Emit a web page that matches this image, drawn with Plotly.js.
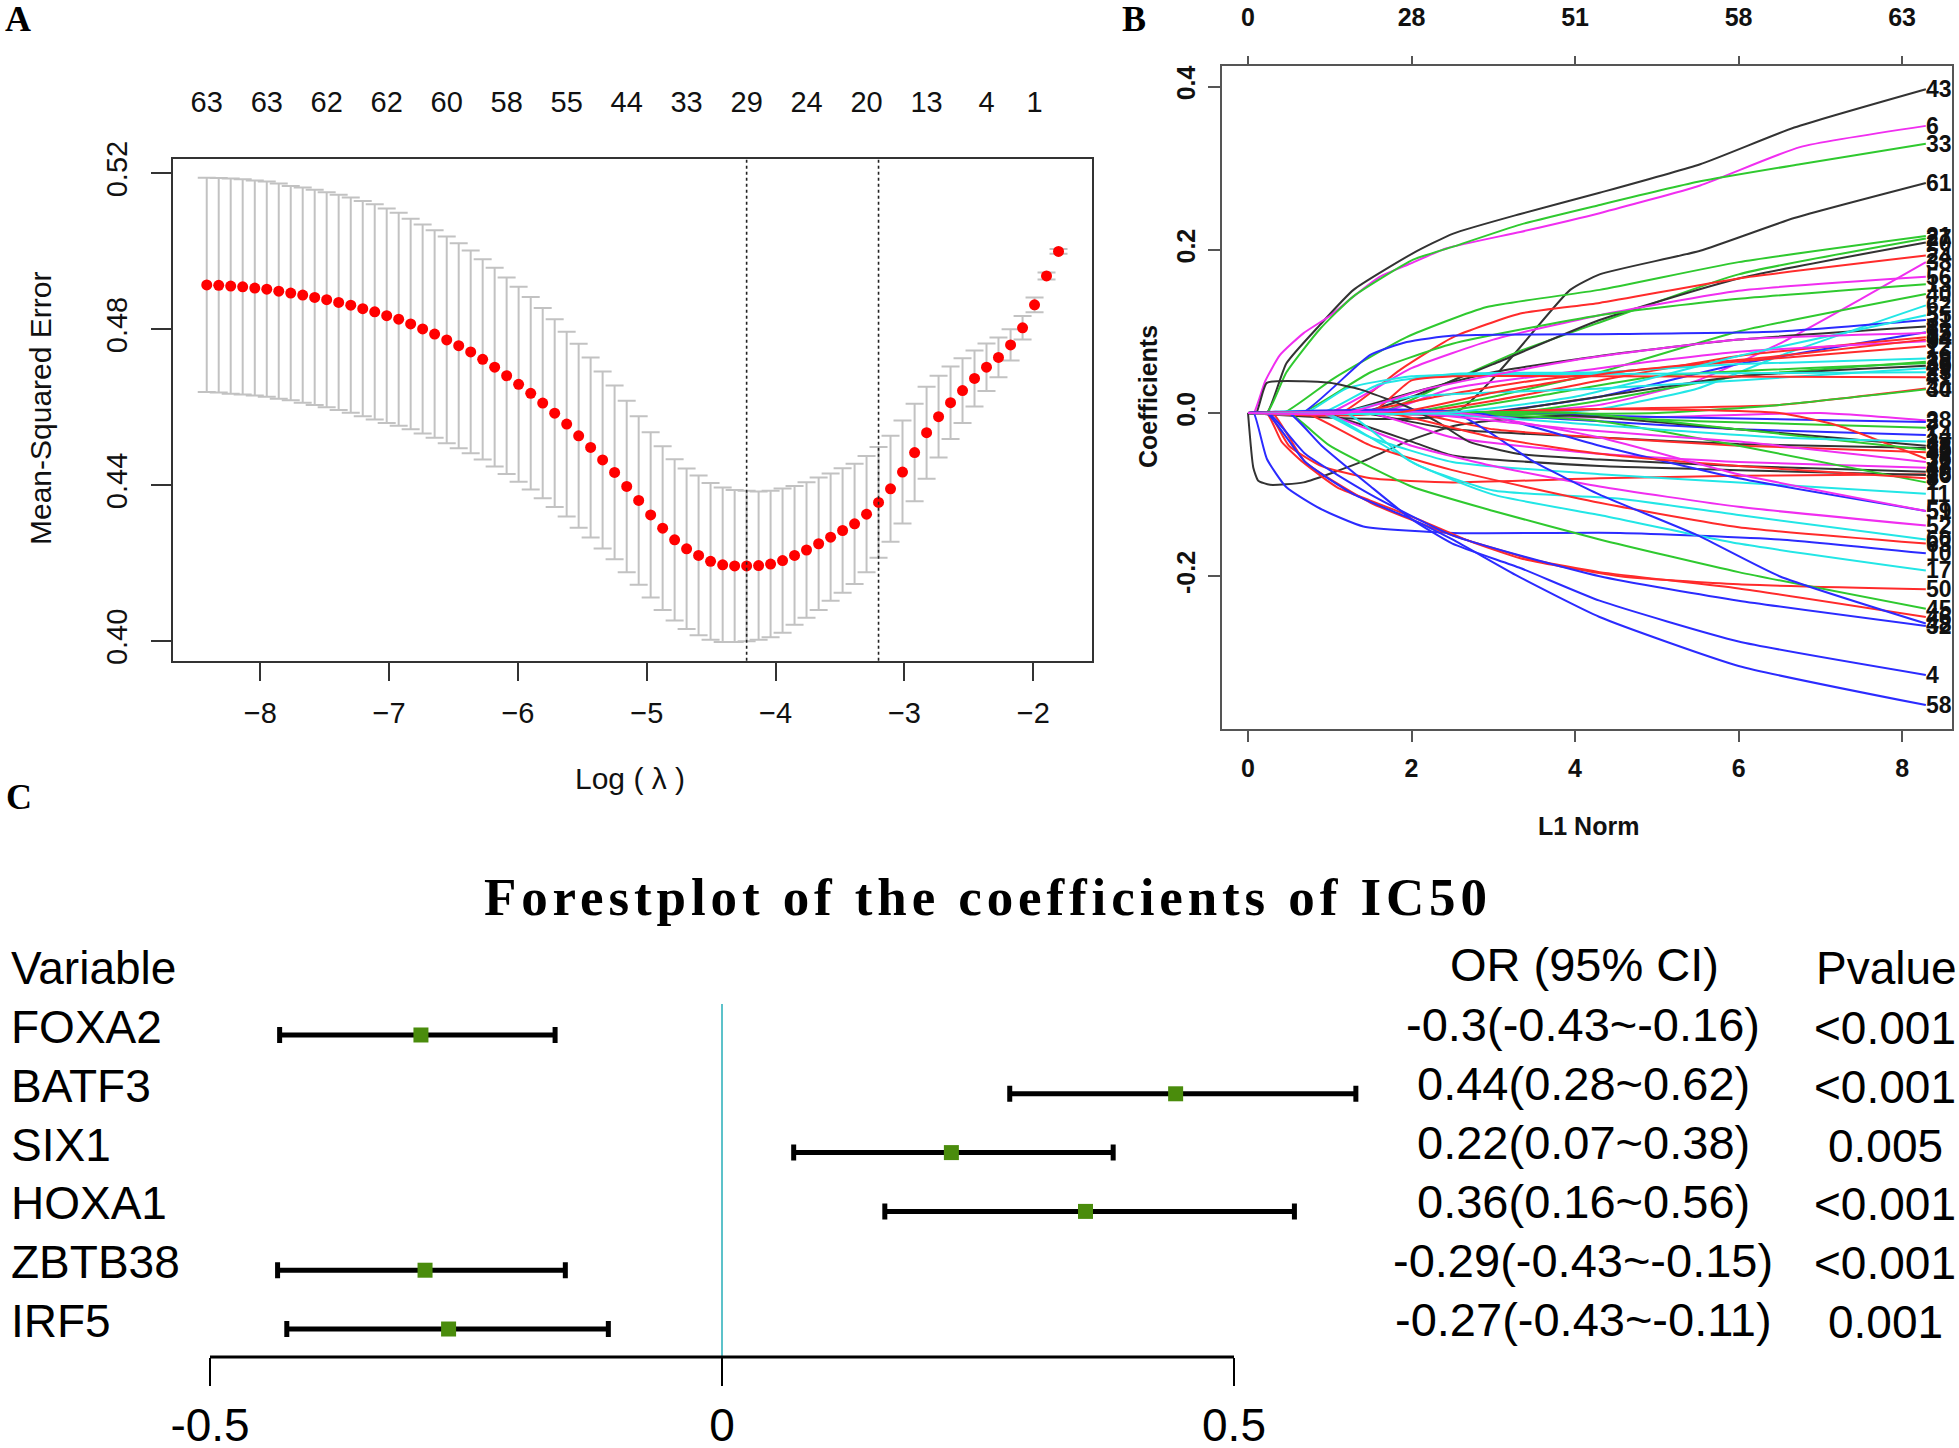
<!DOCTYPE html>
<html>
<head>
<meta charset="utf-8">
<script src="https://cdn.plot.ly/plotly-3.0.1.min.js"></script>
<style>
  html, body { margin: 0; padding: 0; background: #fff; }
  #chart { width: 1959px; height: 1448px; }
  .annotation[data-index="0"] .annotation-text { letter-spacing: 4.9px; }
</style>
</head>
<body>
<div id="chart"></div>
<script>
// ---------------- Panel A: cross-validation curve ----------------
const logLambda = [-8.416,-8.323,-8.230,-8.137,-8.043,-7.950,-7.857,-7.764,-7.671,-7.578,
  -7.485,-7.392,-7.298,-7.205,-7.112,-7.019,-6.926,-6.833,-6.740,-6.647,
  -6.553,-6.460,-6.367,-6.274,-6.181,-6.088,-5.995,-5.901,-5.808,-5.715,
  -5.622,-5.529,-5.436,-5.343,-5.250,-5.156,-5.063,-4.970,-4.877,-4.784,
  -4.691,-4.598,-4.505,-4.411,-4.318,-4.225,-4.132,-4.039,-3.946,-3.853,
  -3.760,-3.666,-3.573,-3.480,-3.387,-3.294,-3.201,-3.108,-3.015,-2.921,
  -2.828,-2.735,-2.642,-2.549,-2.456,-2.363,-2.270,-2.176,-2.083,-1.990,
  -1.897,-1.804];
const cvMean = [0.4914,0.4913,0.4911,0.4909,0.4906,0.4903,0.4898,0.4893,0.4888,0.4882,
  0.4876,0.4869,0.4862,0.4853,0.4845,0.4835,0.4826,0.4814,0.4801,0.4788,
  0.4773,0.4758,0.4742,0.4723,0.4703,0.4681,0.4659,0.4636,0.4611,0.4585,
  0.4557,0.4527,0.4497,0.4465,0.4433,0.4397,0.4361,0.4324,0.4290,0.4260,
  0.4237,0.4220,0.4205,0.4196,0.4193,0.4193,0.4194,0.4198,0.4207,0.4220,
  0.4234,0.4250,0.4267,0.4284,0.4301,0.4326,0.4356,0.4391,0.4434,0.4484,
  0.4535,0.4576,0.4612,0.4643,0.4674,0.4703,0.4728,0.4760,0.4804,0.4863,
  0.4937,0.5000];
const cvSE = [0.0275,0.0275,0.0276,0.0276,0.0276,0.0276,0.0276,0.0275,0.0276,0.0276,
  0.0276,0.0276,0.0276,0.0276,0.0276,0.0275,0.0273,0.0270,0.0268,0.0266,
  0.0265,0.0263,0.0260,0.0257,0.0255,0.0252,0.0250,0.0247,0.0244,0.0241,
  0.0237,0.0236,0.0231,0.0227,0.0223,0.0220,0.0216,0.0212,0.0210,0.0207,
  0.0206,0.0205,0.0201,0.0198,0.0195,0.0193,0.0190,0.0188,0.0185,0.0178,
  0.0174,0.0170,0.0163,0.0160,0.0154,0.0149,0.0142,0.0136,0.0132,0.0125,
  0.0118,0.0105,0.0093,0.0083,0.0072,0.0061,0.0051,0.0040,0.0030,0.0019,
  0.0009,0.0006];
const lambdaMin = -4.225;
const lambda1se = -3.201;
const nzAt = [-8.416,-7.950,-7.485,-7.019,-6.553,-6.088,-5.622,-5.156,-4.691,-4.225,-3.760,-3.294,-2.828,-2.363,-1.990];
const nzLabels = ['63','63','62','62','60','58','55','44','33','29','24','20','13','4','1'];
const aTicksX = [-8,-7,-6,-5,-4,-3,-2];
const aTicksY = [0.40,0.44,0.48,0.52];
const aTickTextY = ['0.40','0.44','0.48','0.52'];

// ---------------- Panel B: coefficient paths ----------------
const bTicksX = [0,2,4,6,8];
const bTopLabels = ['0','28','51','58','63'];
const bTicksY = [-0.2,0,0.2,0.4];
const bTickTextY = ['-0.2','0.0','0.2','0.4'];
const bPalette = ['#333333','#ff2b2b','#2fc92f','#2b2bff','#22e6e6','#f02ef0'];
const bLabels = ['43','6','33','61','21','27','20','24','38','56','13','40','62','31','8','15','34','9','12','19','2','35','49','29','23','41','30','44',
  '28','3','7','14','18','53','42','36','47','39','16','26','1','11','59','52','60','63','10','17','50','45','46','48','32','4','58',
  '5','22','25','37','51','54','55','57'];
const bColorIdx = [0,5,2,0,2,2,0,1,5,5,2,2,4,3,0,3,1,5,1,4,2,2,0,4,4,1,1,2,
  5,3,2,3,0,0,1,1,5,0,1,0,2,4,3,5,4,1,3,4,1,2,1,3,3,3,3,
  1,5,2,4,5,1,4,5];
const bPaths = [
  [[0,0],[0.23,0],[0.47,0.061],[0.88,0.108],[1.29,0.151],[2.02,0.196],[2.51,0.22],[3.33,0.244],[4.3,0.27],[5.53,0.305],[6.68,0.35],[8.29,0.397]],
  [[0,0],[0.07,0],[0.21,0.039],[0.39,0.071],[0.68,0.098],[1.0,0.119],[1.29,0.143],[1.61,0.167],[1.98,0.183],[2.43,0.202],[3.33,0.222],[4.3,0.245],[5.53,0.279],[6.75,0.326],[8.29,0.352]],
  [[0,0],[0.23,0],[0.47,0.05],[0.88,0.103],[1.29,0.143],[2.02,0.188],[2.51,0.204],[3.33,0.231],[4.3,0.255],[5.53,0.284],[6.75,0.305],[8.29,0.33]],
  [[0,0],[2.53,0],[3.94,0.151],[4.3,0.17],[5.53,0.199],[6.68,0.239],[8.29,0.282]],
  [[0,0],[0.43,0],[1.04,0.042],[1.94,0.093],[2.92,0.13],[4.3,0.151],[6.0,0.185],[8.29,0.217]],
  [[0,0],[1.6,0],[2.5,0.04],[3.3,0.075],[4.3,0.111],[6.0,0.17],[8.29,0.214]],
  [[0,0],[1.35,0],[2.0,0.02],[3.0,0.06],[4.3,0.114],[6.0,0.165],[8.29,0.209]],
  [[0,0],[1.13,0],[1.86,0.053],[2.51,0.093],[3.33,0.122],[4.3,0.135],[6.0,0.165],[8.29,0.193]],
  [[0,0],[3.0,0],[4.3,0.01],[5.5,0.04],[6.5,0.085],[7.5,0.14],[8.29,0.185]],
  [[0,0],[0.98,0],[2.0,0.055],[3.0,0.09],[4.3,0.12],[6.0,0.15],[8.29,0.167]],
  [[0,0],[0.65,0],[1.5,0.05],[2.5,0.085],[4.3,0.12],[6.0,0.14],[8.29,0.158]],
  [[0,0],[1.9,0],[3.0,0.02],[4.3,0.05],[6.0,0.1],[8.29,0.146]],
  [[0,0],[3.5,0],[4.3,0.005],[5.5,0.03],[6.5,0.07],[8.29,0.132]],
  [[0,0],[0.66,0],[1.49,0.071],[1.94,0.087],[2.51,0.095],[4.55,0.097],[6.5,0.1],[8.29,0.114]],
  [[0,0],[1.1,0],[2.0,0.025],[3.0,0.05],[4.3,0.07],[6.0,0.09],[8.29,0.106]],
  [[0,0],[2.8,0],[4.3,0.02],[6.0,0.06],[8.29,0.099]],
  [[0,0],[2.0,0],[3.0,0.015],[4.3,0.04],[6.0,0.07],[8.29,0.093]],
  [[0,0],[1.6,0],[2.5,0.03],[4.3,0.055],[6.0,0.075],[8.29,0.088]],
  [[0,0],[1.3,0],[2.3,0.02],[3.5,0.04],[5.0,0.055],[8.29,0.082]],
  [[0,0],[0.9,0],[1.6,0.035],[2.5,0.048],[4.3,0.05],[6.0,0.06],[8.29,0.067]],
  [[0,0],[3.2,0],[4.3,0.015],[6.0,0.045],[8.29,0.063]],
  [[0,0],[2.2,0],[3.5,0.02],[5.0,0.045],[8.29,0.061]],
  [[0,0],[2.9,0],[4.3,0.02],[6.0,0.045],[8.29,0.058]],
  [[0,0],[1.1,0],[2.0,0.02],[4.3,0.03],[6.0,0.04],[8.29,0.055]],
  [[0,0],[0.7,0],[1.2,0.03],[2.0,0.045],[4.3,0.048],[8.29,0.05]],
  [[0,0],[1.5,0],[2.0,0.04],[2.5,0.045],[4.3,0.045],[8.29,0.044]],
  [[0,0],[3.0,0],[4.3,0.005],[6.5,0.01],[8.29,0.03]],
  [[0,0],[5.0,0],[6.5,0.01],[8.29,0.029]],
  [[0,0],[1.5,0],[3.0,-0.005],[5.0,-0.005],[7.0,0.0],[8.29,-0.009]],
  [[0,0],[3.0,0],[5.0,-0.005],[8.29,-0.011]],
  [[0,0],[3.0,0],[5.5,-0.01],[8.29,-0.018]],
  [[0,0],[2.5,0],[4.3,-0.01],[6.0,-0.02],[8.29,-0.027]],
  [[0,0],[0.065,-0.067],[0.126,-0.083],[0.27,-0.088],[0.68,-0.085],[1.41,-0.059],[1.94,-0.035],[2.51,-0.016],[3.12,-0.008],[3.94,-0.003],[6.0,-0.02],[8.29,-0.04]],
  [[0,0],[1.4,0],[2.5,-0.02],[4.3,-0.03],[6.0,-0.038],[8.29,-0.043]],
  [[0,0],[2.0,0],[3.0,-0.02],[4.3,-0.03],[6.0,-0.04],[8.29,-0.048]],
  [[0,0],[2.2,0],[4.3,0.005],[6.5,0.0],[7.2,-0.015],[8.29,-0.056]],
  [[0,0],[1.5,0],[2.5,-0.03],[4.3,-0.05],[6.0,-0.06],[8.29,-0.067]],
  [[0,0],[0.1,0],[0.23,0.037],[0.68,0.039],[1.0,0.037],[1.37,0.029],[1.94,0.008],[2.3,-0.01],[2.7,-0.035],[3.3,-0.05],[4.3,-0.057],[6.0,-0.065],[8.29,-0.072]],
  [[0,0],[0.25,0],[0.5,-0.04],[0.9,-0.065],[1.5,-0.08],[2.5,-0.085],[4.3,-0.08],[6.0,-0.077],[8.29,-0.075]],
  [[0,0],[0.9,0],[2.0,-0.035],[2.5,-0.052],[4.3,-0.065],[6.0,-0.07],[8.29,-0.076]],
  [[0,0],[2.5,0],[4.3,-0.01],[6.0,-0.04],[8.29,-0.085]],
  [[0,0],[0.9,0],[1.5,-0.03],[2.5,-0.06],[4.3,-0.075],[6.0,-0.085],[8.29,-0.099]],
  [[0,0],[2.8,0],[4.3,-0.04],[6.0,-0.08],[8.29,-0.12]],
  [[0,0],[0.9,0],[2.0,-0.04],[3.0,-0.065],[4.3,-0.09],[6.0,-0.115],[8.29,-0.138]],
  [[0,0],[0.95,0],[1.5,-0.03],[2.1,-0.065],[3.0,-0.095],[4.55,-0.105],[6.0,-0.125],[8.29,-0.155]],
  [[0,0],[0.7,0],[1.5,-0.04],[2.5,-0.07],[4.3,-0.11],[6.0,-0.14],[8.29,-0.16]],
  [[0,0],[0.07,0],[0.23,-0.056],[0.47,-0.091],[0.88,-0.117],[1.41,-0.139],[2.51,-0.147],[4.55,-0.147],[6.5,-0.155],[8.29,-0.172]],
  [[0,0],[1.2,0],[2.0,-0.06],[3.0,-0.1],[4.3,-0.125],[6.0,-0.16],[8.29,-0.193]],
  [[0,0],[0.23,0],[0.41,-0.035],[0.68,-0.061],[1.09,-0.091],[1.49,-0.107],[2.1,-0.131],[2.71,-0.157],[3.33,-0.178],[4.55,-0.2],[6.0,-0.21],[8.29,-0.216]],
  [[0,0],[0.5,0],[1.0,-0.04],[2.0,-0.09],[3.0,-0.12],[4.3,-0.155],[6.0,-0.195],[8.29,-0.24]],
  [[0,0],[0.3,0],[0.7,-0.06],[1.5,-0.11],[2.5,-0.15],[3.5,-0.18],[4.3,-0.195],[6.0,-0.215],[8.29,-0.25]],
  [[0,0],[2.53,0],[3.5,-0.06],[4.3,-0.1],[5.5,-0.15],[6.5,-0.2],[8.29,-0.258]],
  [[0,0],[0.25,0],[0.7,-0.05],[1.5,-0.1],[2.5,-0.15],[4.3,-0.2],[6.0,-0.23],[8.29,-0.261]],
  [[0,0],[0.5,0],[0.9,-0.04],[1.5,-0.09],[2.0,-0.13],[2.5,-0.16],[3.33,-0.19],[4.3,-0.23],[6.0,-0.28],[8.29,-0.321]],
  [[0,0],[0.23,0],[0.7,-0.06],[1.3,-0.1],[2.0,-0.13],[2.5,-0.155],[3.3,-0.2],[4.3,-0.25],[6.0,-0.31],[8.29,-0.358]],
  [[0,0],[1.7,0],[3.0,-0.03],[4.3,-0.05],[6.0,-0.065],[8.29,-0.08]],
  [[0,0],[2.0,0],[4.0,-0.02],[6.0,-0.035],[8.29,-0.06]],
  [[0,0],[4.0,0],[6.0,-0.02],[8.29,-0.045]],
  [[0,0],[2.2,0],[4.3,-0.015],[6.5,-0.03],[8.29,-0.035]],
  [[0,0],[2.6,0],[4.3,-0.03],[6.0,-0.075],[8.29,-0.12]],
  [[0,0],[1.8,0],[3.0,0.025],[4.5,0.05],[6.5,0.07],[8.29,0.09]],
  [[0,0],[2.4,0],[4.0,0.02],[6.0,0.07],[8.29,0.12]],
  [[0,0],[1.2,0],[2.2,0.03],[4.0,0.065],[6.0,0.09],[8.29,0.098]]
];

// ---------------- Panel C: forest plot ----------------
const fVariables = ['FOXA2','BATF3','SIX1','HOXA1','ZBTB38','IRF5'];
const fRows = [6,5,4,3,2,1];
const fCoef  = [-0.294, 0.443, 0.224, 0.355, -0.290, -0.267];
const fLower = [-0.432, 0.281, 0.070, 0.159, -0.434, -0.425];
const fUpper = [-0.163, 0.619, 0.382, 0.559, -0.153, -0.111];
const fORText = ['-0.3(-0.43~-0.16)','0.44(0.28~0.62)','0.22(0.07~0.38)','0.36(0.16~0.56)','-0.29(-0.43~-0.15)','-0.27(-0.43~-0.11)'];
const fPText = ['<0.001','<0.001','0.005','<0.001','<0.001','0.001'];
const fHeaders = ['Variable','OR (95% CI)','Pvalue'];
const fTicks = [-0.5, 0, 0.5];
const fTickText = ['-0.5','0','0.5'];

// ---------------- build ----------------
const W = 1959, H = 1448;
const px = v => v / W;
const py = v => 1 - v / H;
const SANS = 'Liberation Sans, Arial, sans-serif';
const SERIF = 'Liberation Serif, Times New Roman, serif';

const data = [];

// Panel A
data.push({
  type: 'scatter', mode: 'markers', x: logLambda, y: cvMean, xaxis: 'x', yaxis: 'y',
  marker: { color: '#ff0000', size: 11, line: { width: 0 } },
  error_y: { type: 'data', array: cvSE, visible: true, color: '#c2c2c2', thickness: 2, width: 9 },
  hoverinfo: 'skip'
});
data.push({ type: 'scatter', mode: 'markers', x: [nzAt[0]], y: [cvMean[0]], xaxis: 'x5', yaxis: 'y',
  marker: { opacity: 0 }, hoverinfo: 'skip' });

// Panel B
for (let i = 0; i < bPaths.length; i++) {
  data.push({
    type: 'scatter', mode: 'lines', xaxis: 'x2', yaxis: 'y2',
    x: bPaths[i].map(p => p[0]), y: bPaths[i].map(p => p[1]),
    line: { color: bPalette[bColorIdx[i]], width: 2, shape: 'spline', smoothing: 0.5 },
    hoverinfo: 'skip'
  });
}
data.push({ type: 'scatter', mode: 'markers', x: [0], y: [0], xaxis: 'x4', yaxis: 'y2',
  marker: { opacity: 0 }, hoverinfo: 'skip' });

// Panel C
data.push({
  type: 'scatter', mode: 'markers', x: fCoef, y: fRows, xaxis: 'x3', yaxis: 'y3',
  marker: { symbol: 'square', size: 15, color: '#4a8c0c', line: { width: 0 } },
  error_x: { type: 'data', symmetric: false,
    array: fUpper.map((u, i) => u - fCoef[i]),
    arrayminus: fLower.map((l, i) => fCoef[i] - l),
    color: '#000000', thickness: 5, width: 8 },
  hoverinfo: 'skip'
});

const annotations = [];
// title of C first (index 0, letter-spaced via CSS)
annotations.push({ text: 'Forestplot of the coefficients of IC50', xref: 'paper', yref: 'paper',
  x: px(988), y: py(897), xanchor: 'center', yanchor: 'middle', showarrow: false,
  font: { family: SERIF, size: 53, color: '#000', weight: 'bold' } });

// panel letters
annotations.push({ text: 'A', xref: 'paper', yref: 'paper', x: px(18), y: py(19), xanchor: 'center', yanchor: 'middle',
  showarrow: false, font: { family: SERIF, size: 36, color: '#000', weight: 'bold' } });
annotations.push({ text: 'B', xref: 'paper', yref: 'paper', x: px(1134), y: py(19), xanchor: 'center', yanchor: 'middle',
  showarrow: false, font: { family: SERIF, size: 36, color: '#000', weight: 'bold' } });
annotations.push({ text: 'C', xref: 'paper', yref: 'paper', x: px(19), y: py(797), xanchor: 'center', yanchor: 'middle',
  showarrow: false, font: { family: SERIF, size: 36, color: '#000', weight: 'bold' } });

// Panel A axis titles
annotations.push({ text: 'Mean-Squared Error', xref: 'paper', yref: 'paper', x: px(40), y: py(409), textangle: -90,
  xanchor: 'center', yanchor: 'middle', showarrow: false, font: { family: SANS, size: 30, color: '#111' } });
annotations.push({ text: 'Log ( λ )', xref: 'paper', yref: 'paper', x: px(630), y: py(778),
  xanchor: 'center', yanchor: 'middle', showarrow: false, font: { family: SANS, size: 30, color: '#111' } });

// Panel B axis titles
annotations.push({ text: 'Coefficients', xref: 'paper', yref: 'paper', x: px(1148), y: py(397), textangle: -90,
  xanchor: 'center', yanchor: 'middle', showarrow: false, font: { family: SANS, size: 25, color: '#111', weight: 'bold' } });
annotations.push({ text: 'L1 Norm', xref: 'paper', yref: 'paper', x: px(1588), y: py(826),
  xanchor: 'center', yanchor: 'middle', showarrow: false, font: { family: SANS, size: 25, color: '#111', weight: 'bold' } });

// Panel B line-end labels
for (let i = 0; i < bPaths.length; i++) {
  const end = bPaths[i][bPaths[i].length - 1];
  annotations.push({ text: bLabels[i], xref: 'x2', yref: 'y2', x: end[0], y: end[1],
    xanchor: 'left', yanchor: 'middle', showarrow: false, xshift: -2,
    font: { family: SANS, size: 23, color: '#111', weight: 'bold' } });
}

// Panel C table
annotations.push({ text: fHeaders[0], xref: 'paper', yref: 'paper', x: px(9), y: py(968),
  xanchor: 'left', yanchor: 'middle', showarrow: false, font: { family: SANS, size: 46, color: '#000' } });
annotations.push({ text: fHeaders[1], xref: 'paper', yref: 'paper', x: px(1584), y: py(965),
  xanchor: 'center', yanchor: 'middle', showarrow: false, font: { family: SANS, size: 47, color: '#000' } });
annotations.push({ text: fHeaders[2], xref: 'paper', yref: 'paper', x: px(1886), y: py(968),
  xanchor: 'center', yanchor: 'middle', showarrow: false, font: { family: SANS, size: 46, color: '#000' } });
for (let i = 0; i < fVariables.length; i++) {
  annotations.push({ text: fVariables[i], xref: 'paper', yref: 'y3', x: px(9), y: fRows[i], yshift: 8,
    xanchor: 'left', yanchor: 'middle', showarrow: false, font: { family: SANS, size: 46, color: '#000' } });
  annotations.push({ text: fORText[i], xref: 'paper', yref: 'y3', x: px(1583), y: fRows[i], yshift: 10,
    xanchor: 'center', yanchor: 'middle', showarrow: false, font: { family: SANS, size: 47, color: '#000' } });
  annotations.push({ text: fPText[i], xref: 'paper', yref: 'y3', x: px(1885), y: fRows[i], yshift: 7,
    xanchor: 'center', yanchor: 'middle', showarrow: false, font: { family: SANS, size: 46, color: '#000' } });
}

const shapes = [
  { type: 'line', xref: 'x', yref: 'y domain', x0: lambdaMin, x1: lambdaMin, y0: 0, y1: 1,
    line: { color: '#222', width: 1.6, dash: 'dot' } },
  { type: 'line', xref: 'x', yref: 'y domain', x0: lambda1se, x1: lambda1se, y0: 0, y1: 1,
    line: { color: '#222', width: 1.6, dash: 'dot' } },
  { type: 'line', xref: 'x3', yref: 'y3 domain', x0: 0, x1: 0, y0: 0, y1: 1,
    line: { color: '#5cc2ca', width: 2 } },
  { type: 'line', xref: 'x3', yref: 'y3 domain', x0: fTicks[0], x1: fTicks[fTicks.length - 1], y0: 0, y1: 0,
    line: { color: '#000', width: 3 } }
];

const layout = {
  width: W, height: H,
  margin: { l: 0, r: 0, t: 0, b: 0, pad: 0 },
  paper_bgcolor: '#ffffff', plot_bgcolor: 'rgba(0,0,0,0)',
  showlegend: false,
  font: { family: SANS, color: '#111' },
  // Panel A
  xaxis: { domain: [px(172.6), px(1092)], range: [-8.681, -1.544], anchor: 'y',
    tickvals: aTicksX, ticks: 'outside', ticklen: 18, tickwidth: 2, tickcolor: '#333',
    showline: true, mirror: true, linewidth: 2, linecolor: '#333',
    showgrid: false, zeroline: false, tickfont: { family: SANS, size: 29, color: '#111' }, ticklabelstandoff: 7 },
  yaxis: { domain: [py(660.7), py(159)], range: [0.3950, 0.5237], anchor: 'x',
    tickvals: aTicksY, ticktext: aTickTextY, tickangle: -90, ticks: 'outside', ticklen: 20, tickwidth: 2, tickcolor: '#333',
    showline: true, mirror: true, linewidth: 2, linecolor: '#333',
    showgrid: false, zeroline: false, tickfont: { family: SANS, size: 29, color: '#111' }, ticklabelstandoff: 12 },
  xaxis5: { overlaying: 'x', side: 'top', anchor: 'y', range: [-8.681, -1.544],
    tickvals: nzAt, ticktext: nzLabels, ticks: '', showline: false, showgrid: false, zeroline: false,
    tickfont: { family: SANS, size: 29, color: '#111' }, ticklabelstandoff: 40 },
  // Panel B
  xaxis2: { domain: [px(1221.6), px(1952)], range: [-0.323, 8.61], anchor: 'y2',
    tickvals: bTicksX, ticks: 'outside', ticklen: 11, tickwidth: 2, tickcolor: '#555',
    showline: true, mirror: true, linewidth: 2, linecolor: '#555',
    showgrid: false, zeroline: false, tickfont: { family: SANS, size: 25, color: '#111', weight: 'bold' }, ticklabelstandoff: 5 },
  yaxis2: { domain: [py(729), py(66)], range: [-0.3873, 0.4254], anchor: 'x2',
    tickvals: bTicksY, ticktext: bTickTextY, tickangle: -90, ticks: 'outside', ticklen: 12, tickwidth: 2, tickcolor: '#555',
    showline: true, mirror: true, linewidth: 2, linecolor: '#555',
    showgrid: false, zeroline: false, tickfont: { family: SANS, size: 25, color: '#111', weight: 'bold' }, ticklabelstandoff: 3 },
  xaxis4: { overlaying: 'x2', side: 'top', anchor: 'y2', range: [-0.323, 8.61],
    tickvals: bTicksX, ticktext: bTopLabels, ticks: 'outside', ticklen: 9, tickwidth: 2, tickcolor: '#555',
    showline: false, showgrid: false, zeroline: false,
    tickfont: { family: SANS, size: 25, color: '#111', weight: 'bold' }, ticklabelstandoff: 20 },
  // Panel C
  xaxis3: { domain: [px(5.2), px(1490)], range: [-0.7, 0.75], anchor: 'y3',
    tickvals: fTicks, ticktext: fTickText, ticks: 'outside', ticklen: 28, tickwidth: 2.5, tickcolor: '#000',
    showline: false, showgrid: false, zeroline: false,
    tickfont: { family: SANS, size: 46, color: '#000' }, ticklabelstandoff: 0 },
  yaxis3: { domain: [py(1357), py(1004)], range: [0.524, 6.527], anchor: 'x3', visible: false },
  annotations: annotations,
  shapes: shapes
};

Plotly.newPlot('chart', data, layout, { staticPlot: true, displayModeBar: false });
</script>
</body>
</html>
